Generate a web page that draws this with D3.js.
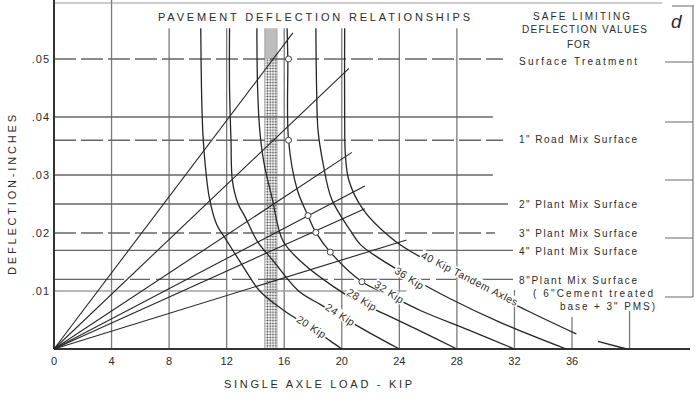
<!DOCTYPE html>
<html>
<head>
<meta charset="utf-8">
<script src="https://d3js.org/d3.v7.min.js"></script>
<style>
body { margin: 0; background: #fff; }
text { font-family: "Liberation Sans", Arial, sans-serif; fill: #2b2b2b; }
</style>
</head>
<body>
<script>

// axis ticks
var xTicks = [0, 4, 8, 12, 16, 20, 24, 28, 32, 36];
var yTicks = [0.01, 0.02, 0.03, 0.04, 0.05];
var yTickLabels = [".01", ".02", ".03", ".04", ".05"];

// safe limiting deflection values
var limitValues = [0.05, 0.036, 0.025, 0.02, 0.017, 0.012];
var limitNames = ["Surface Treatment", "1\" Road Mix Surface", "2\" Plant Mix Surface",
                  "3\" Plant  Mix Surface", "4\" Plant  Mix Surface", "8\"Plant Mix Surface"];

// load curves, [kip, deflection]
var loadNames = ["20 Kip", "24 Kip", "28 Kip", "32 Kip", "36 Kip", "40 Kip Tandem Axles"];
var curve20 = [[10.2,0.0553],[10.25,0.045],[10.35,0.037],[10.5,0.032],[10.8,0.026],[11.3,0.0215],[12.0,0.0187],[13.2,0.014],[14.3,0.010],[16.0,0.0066],[17.9,0.0036],[19.2,0.0014],[20.0,0]];
var curve24 = [[12.2,0.0553],[12.2,0.045],[12.3,0.036],[12.4,0.029],[12.8,0.025],[13.3,0.0227],[14.1,0.0187],[15.3,0.015],[17.0,0.010],[18.5,0.0077],[19.9,0.0057],[22.0,0.0027],[24.0,0]];
var curve28 = [[14.1,0.0553],[14.15,0.045],[14.3,0.0377],[14.6,0.032],[15.15,0.0261],[15.9,0.0187],[17.2,0.015],[19.4,0.0108],[20.9,0.0085],[23.0,0.006],[25.3,0.0033],[28.0,0]];
var curve32 = [[16.2,0.0553],[16.25,0.05],[16.3,0.036],[16.9,0.0275],[17.65,0.023],[18.2,0.0201],[19.2,0.0167],[21.4,0.0116],[23.3,0.0093],[25.5,0.0066],[28.8,0.0033],[32.0,0]];
var curve36 = [[18.2,0.0553],[18.25,0.045],[18.35,0.0377],[18.7,0.032],[19.3,0.0258],[20.6,0.0204],[21.3,0.018],[22.5,0.0158],[24.7,0.0125],[27.5,0.0087],[31.0,0.0046],[35.6,0]];
var curve40 = [[20.2,0.0553],[20.2,0.040],[20.25,0.0335],[20.5,0.029],[21.5,0.024],[23.5,0.019],[24.8,0.0168],[27.5,0.0133],[30.2,0.010],[32.9,0.0066],[36.3,0.0026]];
var curve40tail = [[37.8,0.0013],[39.8,0]];

// straight lines from the origin, far end [kip, deflection]
var rayEnds = [[16.6,0.0545],[20.5,0.0484],[20.7,0.0339],[21.6,0.0281],[21.6,0.0242],[24.5,0.0188]];

// open circles on the 32 kip curve
var markers = [[16.3,0.05],[16.3,0.036],[17.65,0.023],[18.2,0.0201],[19.2,0.0167],[21.4,0.0116]];

var width = 695;
var height = 402;

var x = d3.scaleLinear().domain([0, 36]).range([54, 572]);
var y = d3.scaleLinear().domain([0, 0.05]).range([349, 59]);

var svg = d3.select("body").append("svg")
    .attr("width", width)
    .attr("height", height);

svg.append("rect").attr("width", width).attr("height", height).attr("fill", "#fff");

var defs = svg.append("defs");
var pat = defs.append("pattern").attr("id", "dots")
    .attr("width", 2.8).attr("height", 2.8).attr("patternUnits", "userSpaceOnUse");
pat.append("circle").attr("cx", 1.4).attr("cy", 1.4).attr("r", 0.9).attr("fill", "#3a3a3a");

// shaded band near 15 kip
svg.append("rect")
    .attr("x", x(14.65)).attr("y", y(0.0553))
    .attr("width", x(15.5) - x(14.65)).attr("height", y(0.05) - y(0.0553))
    .attr("fill", "#bdbdbd");
svg.append("rect")
    .attr("x", x(14.65)).attr("y", y(0.05))
    .attr("width", x(15.5) - x(14.65)).attr("height", y(0) - y(0.05))
    .attr("fill", "url(#dots)");
[14.65, 15.5].forEach(function(k) {
  svg.append("line")
      .attr("x1", x(k)).attr("x2", x(k)).attr("y1", y(0.0553)).attr("y2", y(0))
      .attr("stroke", "#999").attr("stroke-width", 0.8);
});

// vertical grid
var vGrid = [[4, 0.06], [8, 0.0553], [12, 0.0553], [16, 0.0553], [20, 0.0553], [24, 0.0553], [28, 0.0553], [32, 0.0102], [36, 0.0055], [40, 0.0066]];
vGrid.forEach(function(g) {
  svg.append("line")
      .attr("x1", x(g[0])).attr("x2", x(g[0]))
      .attr("y1", g[1] >= 0.06 ? 0 : y(g[1])).attr("y2", y(0))
      .attr("stroke", "#7a7a7a").attr("stroke-width", 1.3);
});

// horizontal lines
var hLines = [
  {v: 0.05,  end: 31.2,  dash: "22,5"},
  {v: 0.04,  end: 30.5},
  {v: 0.036, end: 31.2,  dash: "22,5"},
  {v: 0.03,  end: 30.5},
  {v: 0.025, end: 31.55},
  {v: 0.02,  end: 30.65, dash: "22,5"},
  {v: 0.017, end: 31.9},
  {v: 0.012, end: 31.9,  dash: "70,6,20,6"},
  {v: 0.01,  end: 24.5,  light: true}
];
hLines.forEach(function(h) {
  svg.append("line")
      .attr("x1", x(0)).attr("x2", x(h.end))
      .attr("y1", y(h.v)).attr("y2", y(h.v))
      .attr("stroke", h.light ? "#a0a0a0" : "#666")
      .attr("stroke-width", 1.4)
      .attr("stroke-dasharray", h.dash || null);
});

// frame
svg.append("line").attr("x1", x(0)).attr("x2", 662).attr("y1", 3).attr("y2", 3)
    .attr("stroke", "#999").attr("stroke-width", 1.2);
svg.append("line").attr("x1", x(0)).attr("x2", x(0)).attr("y1", 0).attr("y2", y(0))
    .attr("stroke", "#333").attr("stroke-width", 2);
svg.append("line").attr("x1", x(0)).attr("x2", 690).attr("y1", y(0)).attr("y2", y(0))
    .attr("stroke", "#333").attr("stroke-width", 2);

// right bracket
svg.append("line").attr("x1", 693).attr("x2", 693).attr("y1", 5).attr("y2", 297)
    .attr("stroke", "#777").attr("stroke-width", 1.2);
[6, 62, 122, 180, 238, 297].forEach(function(t) {
  svg.append("line").attr("x1", t == 6 ? 672 : 665).attr("x2", 693).attr("y1", t).attr("y2", t)
      .attr("stroke", "#777").attr("stroke-width", 1.1);
});

// rays from origin
rayEnds.forEach(function(r) {
  svg.append("line")
      .attr("x1", x(0)).attr("y1", y(0))
      .attr("x2", x(r[0])).attr("y2", y(r[1]))
      .attr("stroke", "#262626").attr("stroke-width", 1.1);
});

// load curves
var line = d3.line()
    .x(function(d) { return x(d[0]); })
    .y(function(d) { return y(d[1]); })
    .curve(d3.curveCatmullRom);

[curve20, curve24, curve28, curve32, curve36, curve40, curve40tail].forEach(function(c) {
  svg.append("path")
      .attr("d", line(c))
      .attr("fill", "none")
      .attr("stroke", "#262626")
      .attr("stroke-width", 1.3);
});

markers.forEach(function(m) {
  svg.append("circle")
      .attr("cx", x(m[0])).attr("cy", y(m[1])).attr("r", 3)
      .attr("fill", "#fff").attr("stroke", "#444").attr("stroke-width", 1);
});

// curve labels: kip, deflection, angle  (the curve is broken under the text)
var labelPos = [[17.9, 0.0038, 33], [19.9, 0.0059, 33], [21.4, 0.0085, 32], [23.3, 0.0098, 33], [24.7, 0.0122, 33], [28.9, 0.0121, 27]];
labelPos.forEach(function(p, i) {
  var g = svg.append("g")
      .attr("transform", "translate(" + x(p[0]) + "," + y(p[1]) + ") rotate(" + p[2] + ")");
  var bg = g.append("rect").attr("fill", "#fff");
  var t = g.append("text")
      .attr("text-anchor", "middle")
      .attr("dy", "0.35em")
      .attr("font-size", "10.5px")
      .attr("letter-spacing", "0.5px")
      .text(loadNames[i]);
  var b = t.node().getBBox();
  bg.attr("x", b.x - 1).attr("y", b.y + 1).attr("width", b.width + 2).attr("height", b.height - 2);
});

// tick labels
xTicks.forEach(function(t) {
  svg.append("text")
      .attr("x", x(t)).attr("y", 365)
      .attr("text-anchor", "middle")
      .attr("font-size", "11px")
      .text(t);
});
yTicks.forEach(function(t, i) {
  svg.append("text")
      .attr("x", 50).attr("y", y(t) + 4)
      .attr("text-anchor", "end")
      .attr("font-size", "11px")
      .attr("letter-spacing", "1px")
      .text(yTickLabels[i]);
});

// titles
svg.append("text").attr("x", 158).attr("y", 21)
    .attr("font-size", "11px").attr("textLength", 312).attr("lengthAdjust", "spacing")
    .text("PAVEMENT  DEFLECTION  RELATIONSHIPS");

svg.append("text").attr("x", 224).attr("y", 388)
    .attr("font-size", "11px").attr("textLength", 188).attr("lengthAdjust", "spacing")
    .text("SINGLE  AXLE  LOAD - KIP");

svg.append("text")
    .attr("transform", "translate(16,275) rotate(-90)")
    .attr("font-size", "11px").attr("textLength", 160).attr("lengthAdjust", "spacing")
    .text("DEFLECTION-INCHES");

var headLines = [["SAFE LIMITING", 533, 20, 97], ["DEFLECTION VALUES", 522, 33, 125], ["FOR", 567, 48, 23]];
headLines.forEach(function(h) {
  svg.append("text").attr("x", h[1]).attr("y", h[2])
      .attr("font-size", "10px").attr("textLength", h[3]).attr("lengthAdjust", "spacing")
      .text(h[0]);
});

// names of the limiting values
var nameBaselines = [65, 143, 208, 237, 255, 284];
limitNames.forEach(function(n, i) {
  svg.append("text").attr("x", 519).attr("y", nameBaselines[i])
      .attr("font-size", "10px").attr("textLength", 118).attr("lengthAdjust", "spacing")
      .text(n);
});
svg.append("text").attr("x", 533).attr("y", 297)
    .attr("font-size", "10px").attr("textLength", 120).attr("lengthAdjust", "spacing")
    .text("( 6\"Cement  treated");
svg.append("text").attr("x", 560).attr("y", 310)
    .attr("font-size", "10px").attr("textLength", 95).attr("lengthAdjust", "spacing")
    .text("base + 3\" PMS)");

svg.append("text").attr("x", 671).attr("y", 28)
    .attr("font-size", "19px").attr("font-style", "italic")
    .text("d");

</script>
</body>
</html>
